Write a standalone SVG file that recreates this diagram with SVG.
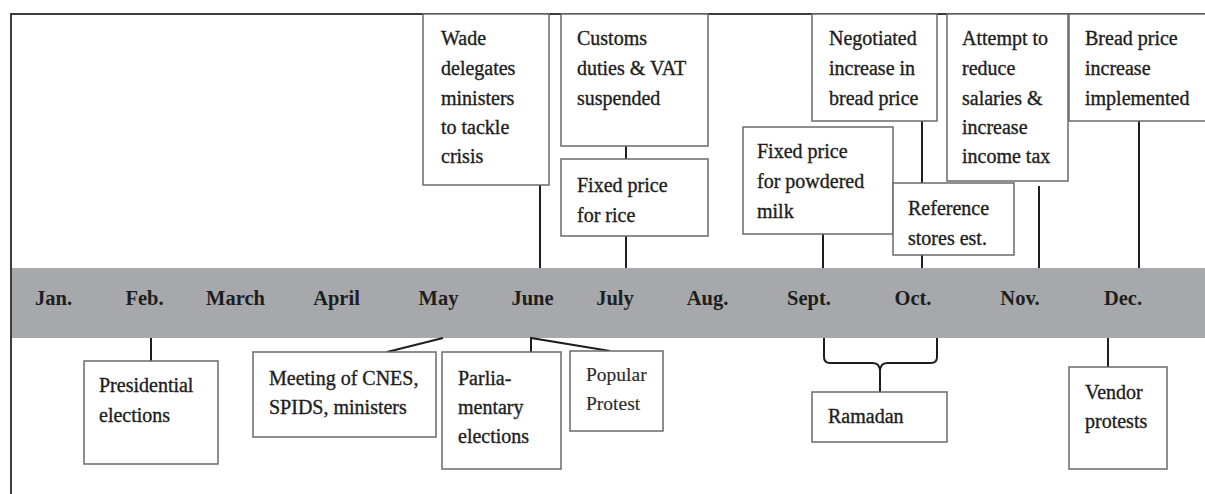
<svg xmlns="http://www.w3.org/2000/svg" width="1205" height="494" viewBox="0 0 1205 494">
<style>
.box{fill:#fff;stroke:#6a6a6a;stroke-width:1.5}
.t{font-family:"Liberation Serif","Times New Roman",serif;font-size:20px;fill:#1e1e1e;stroke:#1e1e1e;stroke-width:0.35}
.tl{font-family:"Liberation Serif","Times New Roman",serif;font-size:19.5px;fill:#2a2a2a;stroke:#2a2a2a;stroke-width:0.15}
.m{font-family:"Liberation Serif","Times New Roman",serif;font-size:20.5px;font-weight:bold;fill:#1e1e1e;text-anchor:middle}
.c{fill:none;stroke:#1e1e1e;stroke-width:2}
</style>
<rect x="0" y="0" width="1205" height="494" fill="#fff"/>
<g id="frame">
<path d="M11 494 V14 H1205" fill="none" stroke="#3c3c3c" stroke-width="2"/>
</g>
<g id="timeline">
<rect x="12" y="268" width="1193" height="70" fill="#a7a8ab"/>
<text class="m" x="53.5" y="305">Jan.</text>
<text class="m" x="144.5" y="305">Feb.</text>
<text class="m" x="235.5" y="305">March</text>
<text class="m" x="336.5" y="305">April</text>
<text class="m" x="438.5" y="305">May</text>
<text class="m" x="532.5" y="305">June</text>
<text class="m" x="615" y="305">July</text>
<text class="m" x="707.5" y="305">Aug.</text>
<text class="m" x="809" y="305">Sept.</text>
<text class="m" x="913" y="305">Oct.</text>
<text class="m" x="1020" y="305">Nov.</text>
<text class="m" x="1123" y="305">Dec.</text>
</g>
<g id="connectors">
<path class="c" d="M540 185 V268"/>
<path class="c" d="M626 146 V159"/>
<path class="c" d="M626 236 V268"/>
<path class="c" d="M823 234 V268"/>
<path class="c" d="M922 121 V268"/>
<path class="c" d="M1039 186 V268"/>
<path class="c" d="M1139 121 V268"/>
<path class="c" d="M151 338 V361"/>
<path class="c" d="M387 352 L443 338"/>
<path class="c" d="M531 352 V338 L610 351"/>
<path class="c" d="M824 338 V357 Q824 363 830 363 H873 Q880 363 880 372 V392 M880 372 Q880 363 887 363 H931 Q937 363 937 357 V338"/>
<path class="c" d="M1108 338 V367"/>
</g>
<g id="n-wade">
<rect class="box" x="423" y="14" width="126" height="171"/>
<text class="t" x="441" y="45">Wade</text>
<text class="t" x="441" y="75">delegates</text>
<text class="t" x="441" y="105">ministers</text>
<text class="t" x="441" y="134">to tackle</text>
<text class="t" x="441" y="163">crisis</text>
</g>
<g id="n-customs">
<rect class="box" x="561" y="14" width="147" height="132"/>
<text class="t" x="577" y="45">Customs</text>
<text class="t" x="577" y="75">duties &amp; VAT</text>
<text class="t" x="577" y="105">suspended</text>
</g>
<g id="n-rice">
<rect class="box" x="561" y="159" width="147" height="77"/>
<text class="t" x="577" y="192">Fixed price</text>
<text class="t" x="577" y="222">for rice</text>
</g>
<g id="n-milk">
<rect class="box" x="743" y="127" width="150" height="107"/>
<text class="t" x="757" y="158">Fixed price</text>
<text class="t" x="757" y="188">for powdered</text>
<text class="t" x="757" y="218">milk</text>
</g>
<g id="n-negotiated">
<rect class="box" x="812" y="14" width="125" height="107"/>
<text class="t" x="829" y="45">Negotiated</text>
<text class="t" x="829" y="75">increase in</text>
<text class="t" x="829" y="105">bread price</text>
</g>
<g id="n-reference">
<rect class="box" x="893" y="183" width="121" height="72"/>
<text class="t" x="908" y="215">Reference</text>
<text class="t" x="908" y="245">stores est.</text>
</g>
<g id="n-attempt">
<rect class="box" x="947" y="14" width="121" height="167"/>
<text class="t" x="962" y="45">Attempt to</text>
<text class="t" x="962" y="75">reduce</text>
<text class="t" x="962" y="105">salaries &amp;</text>
<text class="t" x="962" y="134">increase</text>
<text class="t" x="962" y="163">income tax</text>
</g>
<g id="n-bread">
<rect class="box" x="1069" y="14" width="145" height="107"/>
<text class="t" x="1085" y="45">Bread price</text>
<text class="t" x="1085" y="75">increase</text>
<text class="t" x="1085" y="105">implemented</text>
</g>
<g id="n-presidential">
<rect class="box" x="84" y="361" width="134" height="103"/>
<text class="t" x="99" y="392">Presidential</text>
<text class="t" x="99" y="422">elections</text>
</g>
<g id="n-meeting">
<rect class="box" x="253" y="352" width="183" height="85"/>
<text class="t" x="269" y="385">Meeting of CNES,</text>
<text class="t" x="269" y="414">SPIDS, ministers</text>
</g>
<g id="n-parliamentary">
<rect class="box" x="442" y="352" width="119" height="117"/>
<text class="t" x="458" y="385">Parlia-</text>
<text class="t" x="458" y="414">mentary</text>
<text class="t" x="458" y="443">elections</text>
</g>
<g id="n-popular">
<rect class="box" x="570" y="351" width="93" height="80"/>
<text class="tl" x="586" y="381">Popular</text>
<text class="tl" x="586" y="410">Protest</text>
</g>
<g id="n-ramadan">
<rect class="box" x="812" y="392" width="135" height="50"/>
<text class="t" x="828" y="423">Ramadan</text>
</g>
<g id="n-vendor">
<rect class="box" x="1069" y="367" width="98" height="102"/>
<text class="t" x="1085" y="399">Vendor</text>
<text class="t" x="1085" y="428">protests</text>
</g>
</svg>
